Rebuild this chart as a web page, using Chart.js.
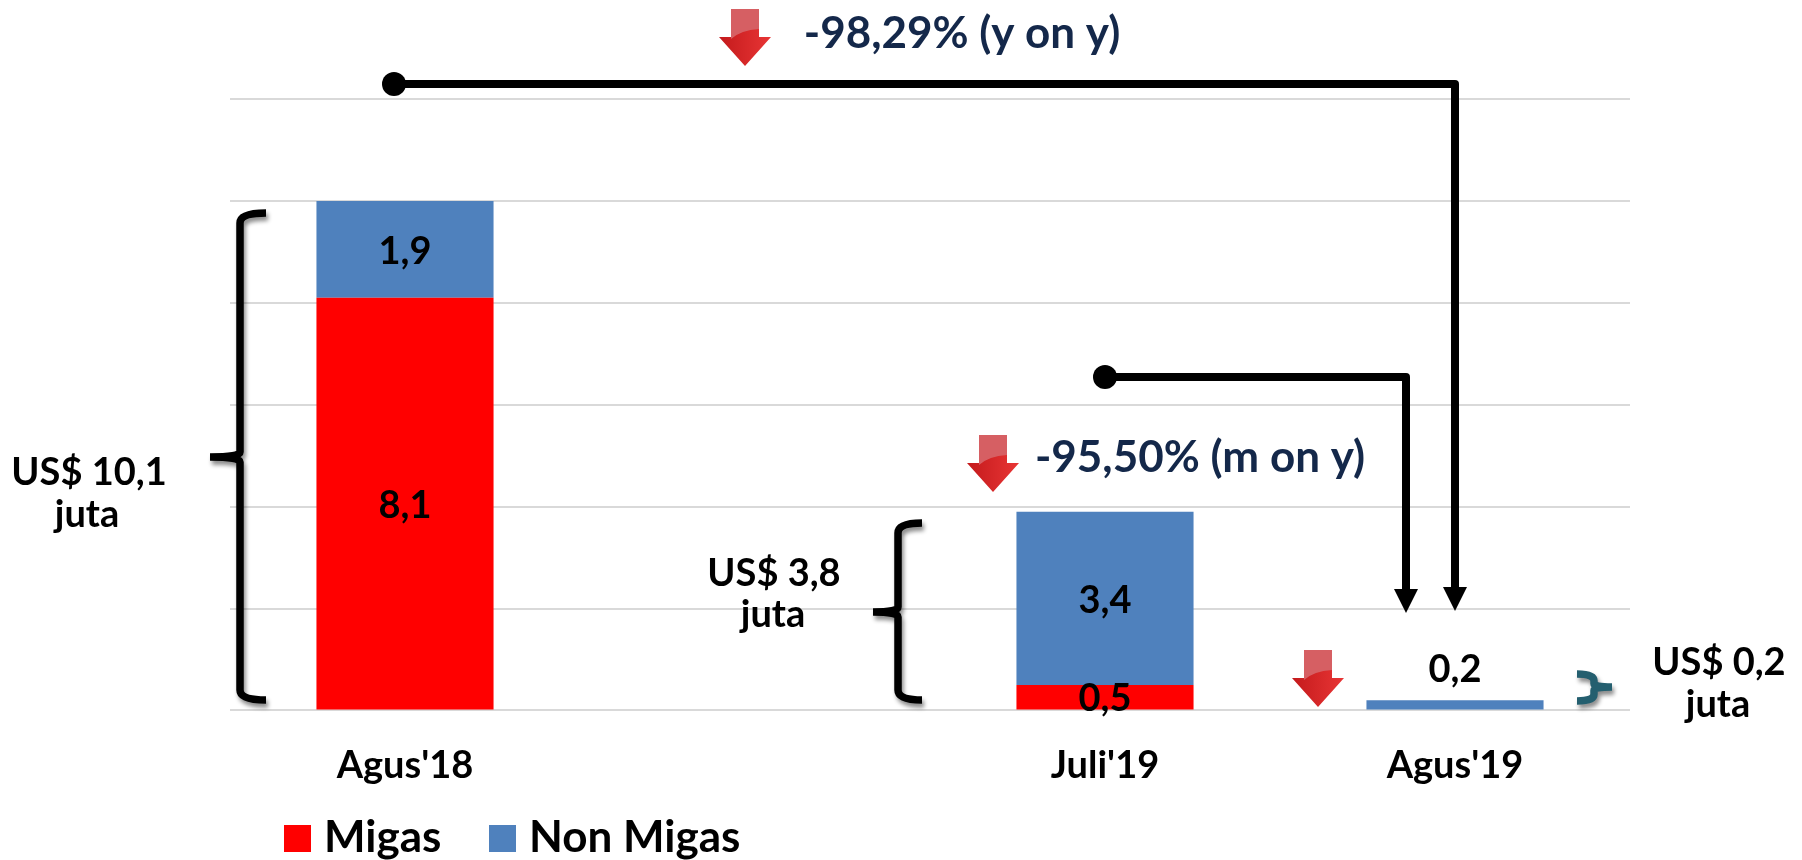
<!DOCTYPE html>
<html>
<head>
<meta charset="utf-8">
<title>Ekspor</title>
<script src="https://cdn.jsdelivr.net/npm/chart.js@4/dist/chart.umd.js"></script>
<style>
    body { margin: 0; background: #fff; }
    canvas { display: block; }
</style>
</head>
<body>
<canvas id="chart" width="1802" height="860"></canvas>
<script>
const categories = ["Agus'18", '', "Juli'19", "Agus'19"];
const migas = [8.1, null, 0.5, null];
const nonMigas = [1.9, null, 3.4, 0.2];
const yTicks = [0, 2, 4, 6, 8, 10, 12];

const FONT = 'Lato, Carlito, sans-serif';
const NAVY = '#14284a';
const TEAL = '#245f6f';

function text(ctx, str, x, y, size, color) {
    ctx.font = 'bold ' + size + 'px ' + FONT;
    ctx.fillStyle = color || '#000';
    ctx.textAlign = 'center';
    ctx.textBaseline = 'middle';
    ctx.fillText(str, x, y);
}

// red block arrow, x is the centre, y the top edge
function downArrow(ctx, x, y) {
    ctx.save();
    const path = new Path2D();
    path.moveTo(x - 14, y);
    path.lineTo(x + 14, y);
    path.lineTo(x + 14, y + 28);
    path.lineTo(x + 26, y + 28);
    path.lineTo(x, y + 57);
    path.lineTo(x - 26, y + 28);
    path.lineTo(x - 14, y + 28);
    path.closePath();

    const fill = ctx.createLinearGradient(x - 26, 0, x + 26, 0);
    fill.addColorStop(0, '#c41a1c');
    fill.addColorStop(1, '#e83535');
    ctx.fillStyle = fill;
    ctx.fill(path);

    // lighter gloss on the shaft
    ctx.clip(path);
    ctx.fillStyle = '#d65f63';
    ctx.beginPath();
    ctx.moveTo(x - 14, y);
    ctx.lineTo(x + 14, y);
    ctx.lineTo(x + 14, y + 20);
    ctx.quadraticCurveTo(x - 4, y + 21, x - 14, y + 30);
    ctx.closePath();
    ctx.fill();
    ctx.restore();
}

// dot, elbow and arrow head joining two periods
function connector(ctx, x1, y1, x2, y2) {
    ctx.save();
    ctx.strokeStyle = '#000';
    ctx.fillStyle = '#000';
    ctx.lineWidth = 8;
    ctx.lineJoin = 'round';
    ctx.beginPath();
    ctx.moveTo(x1, y1);
    ctx.lineTo(x2, y1);
    ctx.lineTo(x2, y2 - 20);
    ctx.stroke();
    ctx.beginPath();
    ctx.arc(x1, y1, 12, 0, Math.PI * 2);
    ctx.fill();
    ctx.beginPath();
    ctx.moveTo(x2 - 12, y2 - 24);
    ctx.lineTo(x2 + 12, y2 - 24);
    ctx.lineTo(x2, y2);
    ctx.closePath();
    ctx.fill();
    ctx.restore();
}

// curly bracket, the tip points towards the tip x
function brace(ctx, spine, end, tip, top, mid, bottom, color) {
    ctx.save();
    ctx.strokeStyle = color;
    ctx.lineWidth = 7.5;
    ctx.shadowColor = 'rgba(0,0,0,0.45)';
    ctx.shadowOffsetX = 2;
    ctx.shadowOffsetY = 4;
    ctx.shadowBlur = 4;
    const bend = Math.min(10, (bottom - top) / 4);
    ctx.beginPath();
    ctx.moveTo(end, top);
    ctx.quadraticCurveTo(spine, top, spine, top + bend);
    ctx.lineTo(spine, mid - bend / 2);
    ctx.quadraticCurveTo(spine, mid, tip, mid);
    ctx.quadraticCurveTo(spine, mid, spine, mid + bend / 2);
    ctx.lineTo(spine, bottom - bend);
    ctx.quadraticCurveTo(spine, bottom, end, bottom);
    ctx.stroke();
    ctx.restore();
}

const valueLabels = {
    id: 'valueLabels',
    afterDatasetsDraw(chart) {
        const ctx = chart.ctx;
        chart.data.datasets.forEach(function(ds, i) {
            chart.getDatasetMeta(i).data.forEach(function(bar, j) {
                const value = ds.data[j];
                if (value === null) return;
                const label = value.toFixed(1).replace('.', ',');
                // the bar is too thin for the last label, it sits above
                const y = value < 0.4 ? bar.y - 30 : bar.getCenterPoint().y + 2;
                text(ctx, label, bar.x, y, 38);
            });
        });
    }
};

const annotations = {
    id: 'annotations',
    afterDraw(chart) {
        const ctx = chart.ctx;
        const xs = chart.scales.x;

        connector(ctx, 394, 84, xs.getPixelForValue(3), 611);
        connector(ctx, xs.getPixelForValue(2), 377, 1406, 613);

        downArrow(ctx, 745, 9);
        downArrow(ctx, 993, 435);
        downArrow(ctx, 1318, 650);
        text(ctx, '-98,29% (y on y)', 962, 34, 44, NAVY);
        text(ctx, '-95,50% (m on y)', 1200, 458, 44, NAVY);

        brace(ctx, 240, 266, 210, 213, 457, 700, '#000');
        brace(ctx, 898, 922, 873, 523, 612, 700, '#000');
        brace(ctx, 1594, 1577, 1612, 674, 687, 701, TEAL);

        text(ctx, 'US$ 10,1', 89, 473, 38);
        text(ctx, 'juta', 87, 515, 38);
        text(ctx, 'US$ 3,8', 774, 574, 38);
        text(ctx, 'juta', 773, 615, 38);
        text(ctx, 'US$ 0,2', 1719, 663, 38);
        text(ctx, 'juta', 1718, 705, 38);

        // legend
        chart.data.datasets.forEach(function(ds, i) {
            const left = [284, 489][i];
            ctx.fillStyle = ds.backgroundColor;
            ctx.fillRect(left, 825, 27, 27);
            ctx.font = 'bold 44px ' + FONT;
            ctx.fillStyle = '#000';
            ctx.textAlign = 'left';
            ctx.textBaseline = 'middle';
            ctx.fillText(ds.label, left + 40, 838);
        });
    }
};

new Chart(document.getElementById('chart'), {
    type: 'bar',
    data: {
        labels: categories,
        datasets: [
            { label: 'Migas', data: migas, backgroundColor: '#ff0000' },
            { label: 'Non Migas', data: nonMigas, backgroundColor: '#4f81bd' }
        ]
    },
    options: {
        responsive: false,
        animation: false,
        layout: { padding: { left: 230, right: 172, top: 99, bottom: 46 } },
        datasets: { bar: { categoryPercentage: 1, barPercentage: 0.506 } },
        plugins: {
            legend: { display: false },
            tooltip: { enabled: false }
        },
        scales: {
            x: {
                stacked: true,
                grid: { display: false },
                border: { display: false },
                ticks: {
                    color: '#000',
                    padding: 25,
                    maxRotation: 0,
                    autoSkip: false,
                    font: { family: FONT, size: 38, weight: 'bold' }
                }
            },
            y: {
                stacked: true,
                min: yTicks[0],
                max: yTicks[yTicks.length - 1],
                grid: { color: '#d9d9d9', lineWidth: 2, drawTicks: false },
                border: { display: false },
                ticks: { display: false, stepSize: yTicks[1] - yTicks[0] }
            }
        }
    },
    plugins: [valueLabels, annotations]
});
</script>
</body>
</html>
